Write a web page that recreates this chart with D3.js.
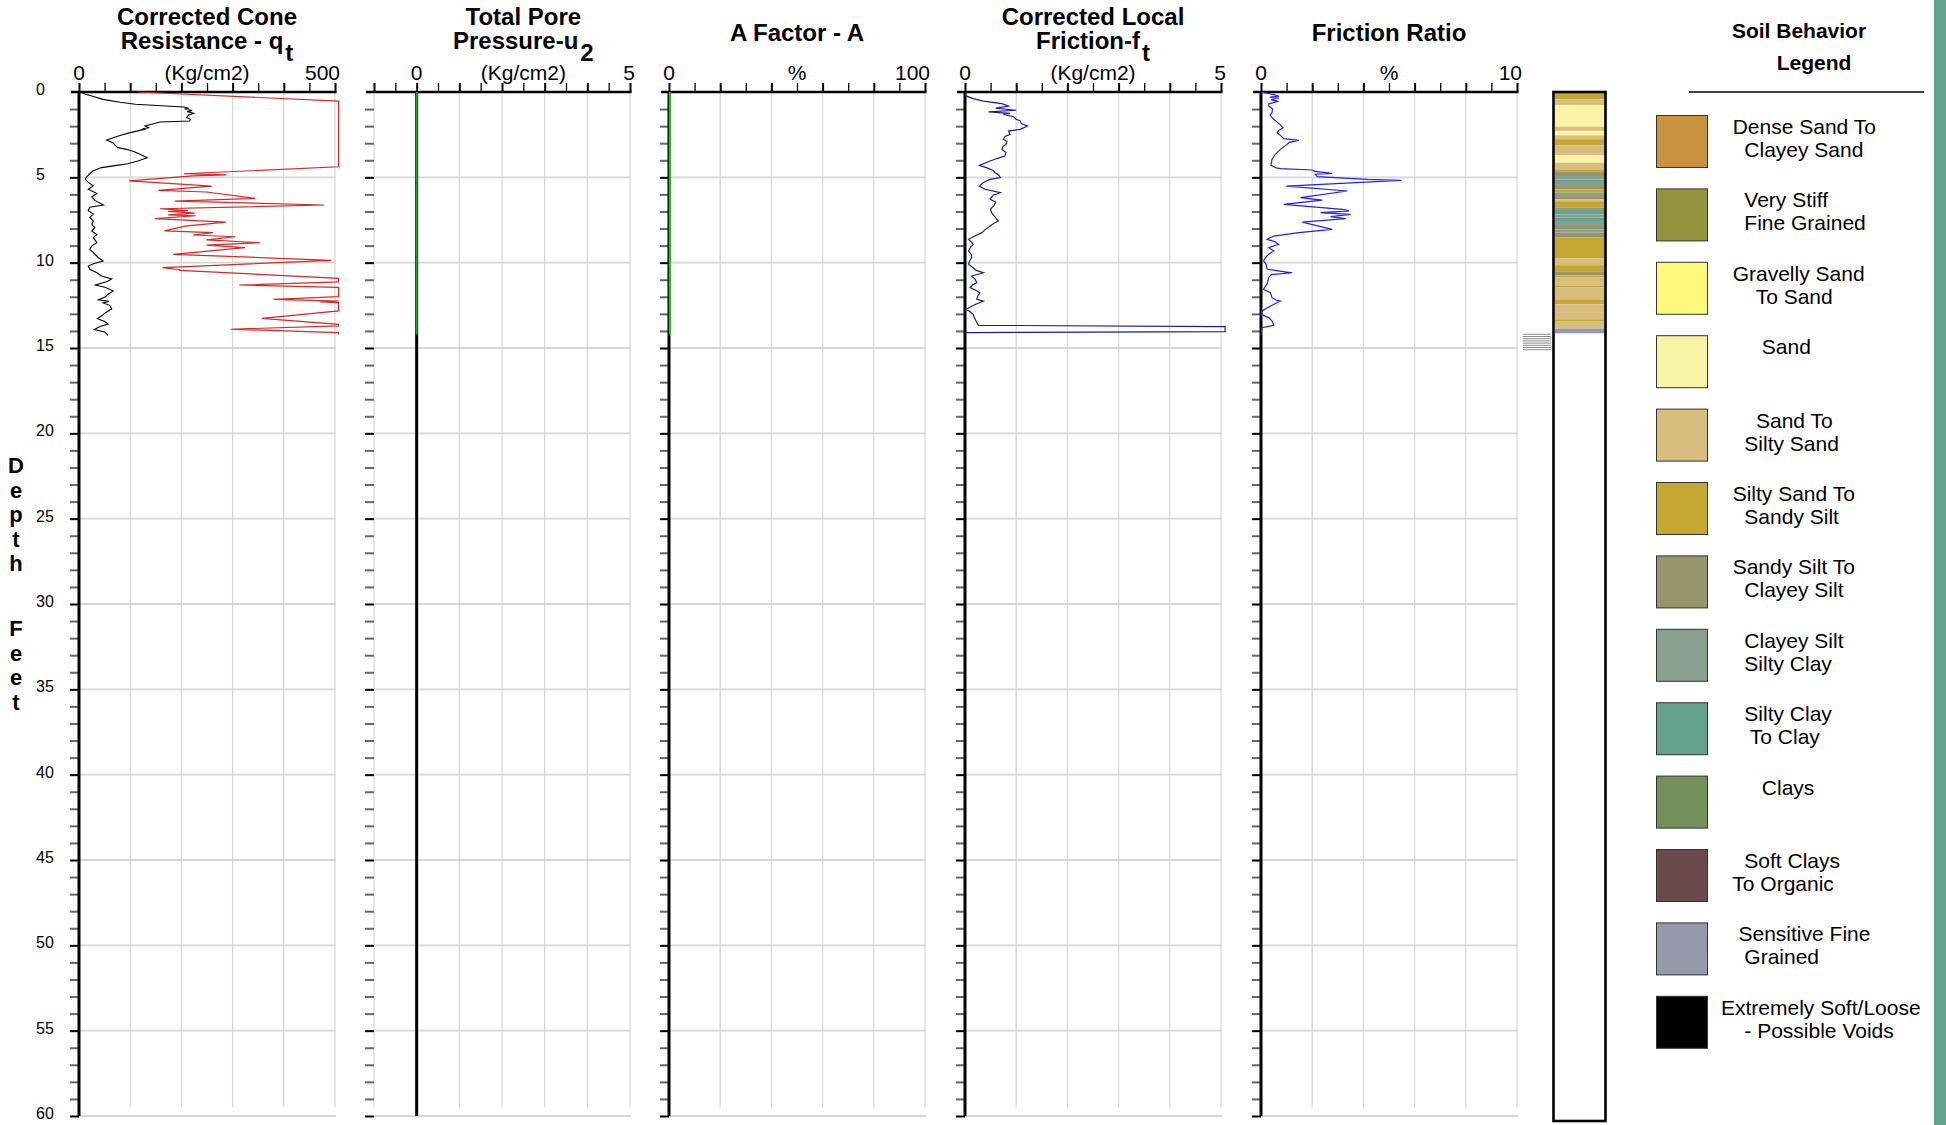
<!DOCTYPE html>
<html>
<head>
<meta charset="utf-8">
<script src="https://cdn.jsdelivr.net/npm/d3@7"></script>
<style>
  html, body { margin: 0; padding: 0; background: #fff; }
  svg { display: block; font-family: "Liberation Sans", Arial, Helvetica, sans-serif; }
  .pre { white-space: pre; }
</style>
</head>
<body>
<svg id="chart" width="1946" height="1125"></svg>
<script>
// ---- CPT sounding data: [depth (ft), value] ----
const qtProfile = [[0,2],[0.12,12],[0.23,25],[0.43,47],[0.6,80],[0.72,110],[0.88,205],[0.95,214],[1.0,206],[1.08,221],[1.15,211],[1.25,224],[1.35,214],[1.5,210],[1.6,218],[1.7,216],[1.76,158],[1.9,140],[1.99,129],[2.09,136],[2.15,124],[2.19,128],[2.38,100],[2.55,80],[2.68,67],[2.81,54],[2.97,66],[3.1,70],[3.26,76],[3.36,93],[3.5,108],[3.65,119],[3.85,133],[4.04,115],[4.2,95],[4.3,74],[4.43,44],[4.63,27],[4.82,20],[4.98,15],[5.1,12],[5.3,18],[5.5,28],[5.7,18],[5.95,35],[6.15,25],[6.35,31],[6.62,48],[6.75,21],[6.95,18],[7.15,28],[7.35,21],[7.55,28],[7.75,25],[7.95,31],[8.15,25],[8.35,35],[8.53,28],[8.83,35],[9.02,25],[9.22,21],[9.41,28],[9.71,38],[9.9,47],[10.06,28],[10.2,18],[10.39,21],[10.59,35],[10.78,44],[10.95,64],[11.1,55],[11.31,32],[11.45,52],[11.66,67],[11.86,56],[12.0,52],[12.17,38],[12.27,58],[12.36,47],[12.5,60],[12.7,64],[12.93,52],[13.1,45],[13.28,36],[13.45,50],[13.6,57],[13.75,40],[13.92,30],[14.06,50],[14.26,57]];

// same cone resistance on the expanded (x10) scale, clipped at the panel edge
const qtExpanded = [[0,115],[0.53,507],[4.38,507],[4.79,205],[4.86,288],[4.92,222],[5.21,98],[5.51,259],[5.76,155],[5.86,249],[6.23,344],[6.39,187],[6.62,479],[6.84,158],[6.95,213],[7.0,174],[7.1,226],[7.2,174],[7.25,228],[7.42,148],[7.62,287],[7.86,207],[8.14,167],[8.24,262],[8.38,223],[8.48,305],[8.67,249],[8.83,353],[8.97,249],[9.12,324],[9.51,184],[9.86,493],[10.29,163],[10.41,197],[10.45,197],[10.92,507],[11.13,507],[11.31,313],[11.45,507],[11.99,507],[12.15,380],[12.25,507],[12.3,471],[12.34,507],[12.83,507],[13.26,357],[13.61,507],[13.7,507],[13.9,296],[14.1,507],[14.2,507]];

const u2Profile = [[0,0],[14.2,0]];
const aFactorProfile = [[0,0.3],[14.2,0.3]];

const ftProfile = [[0,0],[0.23,0.02],[0.39,0.16],[0.53,0.36],[0.68,0.72],[0.82,0.85],[0.95,0.6],[1.07,1.0],[1.17,0.46],[1.25,0.88],[1.31,0.75],[1.45,0.95],[1.6,1.0],[1.7,1.08],[1.85,1.1],[1.99,1.22],[2.19,1.08],[2.29,0.85],[2.48,0.88],[2.6,0.78],[2.77,0.75],[2.9,0.82],[3.07,0.8],[3.2,0.74],[3.36,0.72],[3.55,0.8],[3.75,0.78],[3.9,0.62],[4.04,0.49],[4.3,0.28],[4.43,0.42],[4.6,0.55],[4.73,0.59],[4.88,0.66],[5.02,0.69],[5.12,0.49],[5.3,0.36],[5.51,0.28],[5.7,0.39],[5.9,0.69],[6.05,0.55],[6.29,0.49],[6.45,0.6],[6.68,0.56],[6.85,0.5],[7.07,0.52],[7.3,0.58],[7.56,0.65],[7.7,0.56],[7.85,0.49],[8.05,0.4],[8.24,0.33],[8.45,0.18],[8.63,0.07],[8.78,0.12],[8.93,0.16],[9.12,0.1],[9.32,0.07],[9.5,0.12],[9.71,0.13],[9.9,0.09],[10.1,0.07],[10.3,0.16],[10.45,0.22],[10.59,0.36],[10.78,0.13],[10.98,0.2],[11.17,0.23],[11.3,0.15],[11.46,0.1],[11.6,0.2],[11.76,0.29],[11.95,0.25],[12.15,0.23],[12.25,0.36],[12.45,0.2],[12.6,0.1],[12.73,0.03],[12.88,0.1],[13.03,0.16],[13.2,0.18],[13.45,0.22],[13.67,0.26],[13.75,5.08],[14.04,5.08],[14.1,0]];

const frProfile = [[0,0],[0.15,0.5],[0.25,0.7],[0.3,0.35],[0.35,0.7],[0.45,0.4],[0.55,0.65],[0.7,0.3],[0.82,0.3],[1.0,0.45],[1.21,0.43],[1.35,0.35],[1.6,0.5],[1.85,0.7],[2.09,0.86],[2.25,0.7],[2.38,0.63],[2.6,0.8],[2.73,0.89],[2.83,1.48],[2.95,1.1],[3.07,1.02],[3.36,0.76],[3.65,0.56],[3.95,0.43],[4.3,0.39],[4.45,0.6],[4.49,0.76],[4.57,2.0],[4.65,2.1],[4.77,2.78],[4.82,2.12],[4.96,2.2],[5.12,4.16],[5.18,5.49],[5.27,4.29],[5.51,0.99],[5.8,3.37],[6.19,1.54],[6.33,2.39],[6.58,0.89],[6.88,3.18],[6.97,3.44],[7.07,2.33],[7.17,3.5],[7.3,2.72],[7.42,3.31],[7.62,1.61],[8.05,2.78],[8.24,1.48],[8.44,0.5],[8.63,0.24],[8.78,0.55],[8.93,0.69],[9.12,0.3],[9.32,0.5],[9.5,0.3],[9.71,0.17],[9.9,0.1],[10.1,0.2],[10.39,0.24],[10.55,1.0],[10.59,1.22],[10.7,0.4],[10.88,0.3],[11.2,0.25],[11.56,0.1],[11.76,0.37],[12.05,0.43],[12.2,0.6],[12.25,0.76],[12.44,0.5],[12.6,0.3],[12.83,0.04],[13.03,0],[13.22,0.3],[13.45,0.45],[13.67,0.5],[13.81,0.04],[14.26,0]];

// soil behaviour column: top depth of each layer and its zone number (1-13)
const layerTops  = [0, 0.43, 0.76, 2.03, 2.28, 2.54, 2.77, 3.12, 3.71, 4.14, 4.53, 4.69, 4.92, 5.12, 5.27, 5.51, 5.70, 5.90, 6.10, 6.29, 6.40, 6.78, 6.91, 7.17, 7.36, 7.56, 7.85, 8.05, 8.24, 8.53, 9.76, 10.15, 10.54, 10.74, 10.88, 11.36, 11.46, 12.15, 12.44, 12.93, 12.99, 13.32, 13.42, 13.86];
const layerZones = [6, 5, 4, 5, 4, 5, 6, 5, 4, 5, 6, 7, 8, 9, 8, 7, 6, 8, 7, 5, 6, 7, 9, 8, 9, 8, 7, 8, 7, 6, 5, 6, 7, 6, 5, 6, 5, 6, 5, 6, 5, 6, 5, 12];
const soundingEnd = 14.14;

const zoneLabels = [
  ["  Dense Sand To", "    Clayey Sand"],
  ["    Very Stiff", "    Fine Grained"],
  ["  Gravelly Sand", "      To Sand"],
  ["       Sand"],
  ["      Sand To", "    Silty Sand"],
  ["  Silty Sand To", "    Sandy Silt"],
  ["  Sandy Silt To", "    Clayey Silt"],
  ["    Clayey Silt", "    Silty Clay"],
  ["    Silty Clay", "     To Clay"],
  ["       Clays"],
  ["    Soft Clays", "  To Organic"],
  ["   Sensitive Fine", "    Grained"],
  ["Extremely Soft/Loose", "    - Possible Voids"]
];
const zoneColors = ["#c8923f", "#949440", "#fef97a", "#f9f3a5", "#d8be7e", "#c4a831", "#97956d", "#88a08f", "#64a28e", "#75915b", "#6b4a4b", "#9898ad", "#000000"];

const depthTickLabels = d3.range(0, 61, 5);

// ---- layout ----
const svg = d3.select("#chart");
const y = d3.scaleLinear().domain([0, 60]).range([92, 1116]);
const PANEL_W = 256;

const panels = [
  { title: [["Corrected Cone"], ["Resistance - q", "t"]], unit: "(Kg/cm2)", domain: [0, 500], minor: 50, major: 100, left: 79, maxLabel: "500",
    series: [{ data: qtExpanded, color: "#d42a2a", width: 1.2 }, { data: qtProfile, color: "#000", width: 1.1 }] },
  { title: [["Total Pore"], ["Pressure-u", "2"]], unit: "(Kg/cm2)", domain: [-1, 5], minor: 0.5, major: 1, left: 374, maxLabel: "5",
    series: [{ data: u2Profile, color: "#21a321", width: 2 }] },
  { title: [["A Factor - A"]], unit: "%", domain: [0, 100], minor: 10, major: 20, left: 669, maxLabel: "100",
    series: [{ data: aFactorProfile, color: "#21c321", width: 2 }] },
  { title: [["Corrected Local"], ["Friction-f", "t"]], unit: "(Kg/cm2)", domain: [0, 5], minor: 0.5, major: 1, left: 965, maxLabel: "5",
    series: [{ data: ftProfile, color: "#1a1a9a", width: 1.2 }] },
  { title: [["Friction Ratio"]], unit: "%", domain: [0, 10], minor: 1, major: 2, left: 1261, maxLabel: "10",
    series: [{ data: frProfile, color: "#2020ee", width: 1.2 }] }
];

const near = (a, b) => Math.abs(a - b) < 1e-6;

panels.forEach((p, i) => {
  const x = d3.scaleLinear().domain(p.domain).range([p.left, p.left + PANEL_W]);
  const g = svg.append("g");
  const [d0, d1] = p.domain;
  const majors = d3.range(d0, d1 + p.major / 2, p.major);
  const minors = d3.range(d0, d1 + p.minor / 2, p.minor);
  const isMajor = v => majors.some(m => near(m, v));

  // vertical grid lines at the labelled divisions
  g.selectAll("line.vgrid").data(majors.filter(v => !near(v, 0))).join("line")
    .attr("x1", d => x(d)).attr("x2", d => x(d))
    .attr("y1", y(0)).attr("y2", y(59.5))
    .attr("stroke", "#d9d9d9").attr("stroke-width", 1.3);

  // horizontal grid lines every 5 ft
  g.selectAll("line.hgrid").data(d3.range(5, 61, 5)).join("line")
    .attr("x1", x(d0)).attr("x2", x(d1) + 1)
    .attr("y1", d => y(d)).attr("y2", d => y(d))
    .attr("stroke", "#d6d6d6").attr("stroke-width", 1.8);

  // top value axis
  const top = g.append("g").attr("transform", `translate(0,${y(0)})`)
    .call(d3.axisTop(x).tickValues(minors).tickSize(9).tickSizeOuter(0).tickFormat(""));
  top.select(".domain").remove();
  top.selectAll(".tick line").attr("stroke", "#000").attr("stroke-width", d => isMajor(d) ? 2 : 1.3);
  g.append("line").attr("x1", p.left - 8).attr("x2", x(d1) + 1.5)
    .attr("y1", y(0)).attr("y2", y(0)).attr("stroke", "#000").attr("stroke-width", 2.6);

  // depth ticks on the left edge of every track
  const left = g.append("g").attr("transform", `translate(${p.left},0)`)
    .call(d3.axisLeft(y).tickValues(d3.range(1, 61)).tickSize(9).tickSizeOuter(0).tickFormat(""));
  left.select(".domain").remove();
  left.selectAll(".tick line").attr("stroke", d => d % 5 === 0 ? "#000" : "#666").attr("stroke-width", 2);

  // zero line
  g.append("line").attr("x1", x(0)).attr("x2", x(0)).attr("y1", y(0)).attr("y2", y(60))
    .attr("stroke", "#000").attr("stroke-width", 3);

  // curves
  const line = d3.line().x(d => x(d[1])).y(d => y(d[0]));
  p.series.forEach(s => {
    g.append("path").datum(s.data).attr("d", line)
      .attr("fill", "none").attr("stroke", s.color).attr("stroke-width", s.width)
      .attr("stroke-linejoin", "miter");
  });

  // scale labels
  g.append("text").attr("x", x(0)).attr("y", 79.5).attr("text-anchor", "middle")
    .attr("font-size", 21).text("0");
  g.append("text").attr("x", x(d1) + 5).attr("y", 79.5).attr("text-anchor", "end")
    .attr("font-size", 21).text(p.maxLabel);
  const mid = (x(0) + x(d1)) / 2;
  g.append("text").attr("x", mid).attr("y", 79.5).attr("text-anchor", "middle")
    .attr("font-size", 21).text(p.unit);

  // title
  const baselines = p.title.length === 1 ? [41] : [25, 49];
  p.title.forEach((ln, k) => {
    const t = g.append("text").attr("x", mid).attr("y", baselines[k]).attr("text-anchor", "middle")
      .attr("font-size", 24).attr("font-weight", "bold");
    t.append("tspan").text(ln[0]);
    if (ln[1]) t.append("tspan").attr("dy", 12).attr("dx", 2).text(ln[1]);
  });

  // depth labels on the first track
  if (i === 0) {
    g.selectAll("text.depth").data(depthTickLabels).join("text")
      .attr("x", 36).attr("y", d => y(d) + 3).attr("font-size", 16).text(d => d);
  }
});

// vertical axis title, one letter per line
const depthLetters = ["D", "e", "p", "t", "h"];
const feetLetters = ["F", "e", "e", "t"];
svg.append("g").selectAll("text").data(depthLetters).join("text")
  .attr("x", 16).attr("y", (d, k) => 473 + k * 24.6).attr("text-anchor", "middle")
  .attr("font-size", 22).attr("font-weight", "bold").text(d => d);
svg.append("g").selectAll("text").data(feetLetters).join("text")
  .attr("x", 16).attr("y", (d, k) => 636 + k * 24.6).attr("text-anchor", "middle")
  .attr("font-size", 22).attr("font-weight", "bold").text(d => d);

// ---- soil behaviour column ----
const col = svg.append("g");
const colX0 = 1555, colX1 = 1605;
const layers = layerTops.map((t, k) => ({ top: t, bottom: k + 1 < layerTops.length ? layerTops[k + 1] : soundingEnd, zone: layerZones[k] }));
col.selectAll("rect.layer").data(layers).join("rect")
  .attr("x", colX0).attr("width", colX1 - colX0)
  .attr("y", d => y(d.top)).attr("height", d => y(d.bottom) - y(d.top))
  .attr("fill", d => zoneColors[d.zone - 1]);
col.append("rect").attr("x", 1553.5).attr("y", 92).attr("width", 52).attr("height", 1121 - 92)
  .attr("fill", "none").attr("stroke", "#000").attr("stroke-width", 2.6);

// end-of-sounding marker
col.selectAll("line.hatch").data(d3.range(y(soundingEnd) + 1, y(15.2), 2.2)).join("line")
  .attr("x1", 1523).attr("x2", 1551).attr("y1", d => d).attr("y2", d => d)
  .attr("stroke", "#8a8a8a").attr("stroke-width", 1);

// ---- legend ----
const leg = svg.append("g");
leg.append("text").attr("x", 1799).attr("y", 38).attr("text-anchor", "middle")
  .attr("font-size", 21).attr("font-weight", "bold").text("Soil Behavior");
leg.append("text").attr("x", 1814).attr("y", 70).attr("text-anchor", "middle")
  .attr("font-size", 21).attr("font-weight", "bold").text("Legend");
leg.append("line").attr("x1", 1689).attr("x2", 1924).attr("y1", 92).attr("y2", 92)
  .attr("stroke", "#000").attr("stroke-width", 1.5);

const legendTop = d3.scaleLinear().domain([0, 12]).range([115, 115 + 12 * 73.4]);
const items = leg.selectAll("g.item").data(zoneLabels).join("g")
  .attr("transform", (d, k) => `translate(0,${legendTop(k)})`);
items.append("rect").attr("x", 1656.5).attr("y", 0.5).attr("width", 51).attr("height", 52)
  .attr("fill", (d, k) => zoneColors[k]).attr("stroke", "#333").attr("stroke-width", 1);
items.each(function (lines) {
  const t = d3.select(this).append("text").attr("class", "pre").attr("font-size", 21);
  lines.forEach((ln, k) => {
    t.append("tspan").attr("x", 1721).attr("y", 19 + k * 23).text(ln);
  });
});

// right-hand band
svg.append("rect").attr("x", 1934).attr("y", 0).attr("width", 12).attr("height", 1125).attr("fill", "#66a38e");
</script>
</body>
</html>
